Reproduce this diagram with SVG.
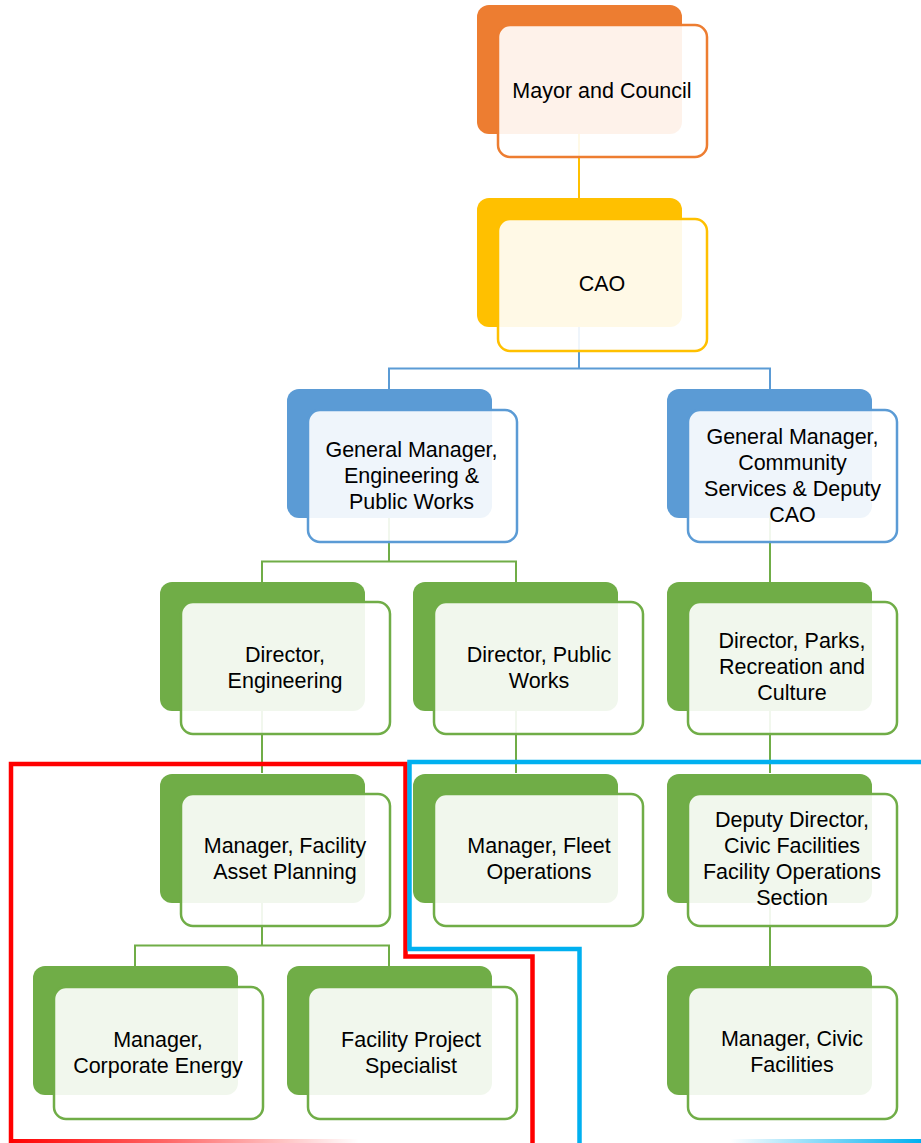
<svg xmlns="http://www.w3.org/2000/svg" width="921" height="1143" viewBox="0 0 921 1143">
<defs>
<style>
.bk{stroke:none}
.fr{fill:#ffffff;fill-opacity:0.9;stroke-width:2.5}
.t{font-family:"Liberation Sans",Arial,sans-serif;font-size:21.5px;fill:#000;text-anchor:middle}
.c{fill:none;stroke-width:2}
.o .bk{fill:#ED7D31}.o .fr{stroke:#ED7D31}
.y .bk{fill:#FFC000}.y .fr{stroke:#FFC000}
.b .bk{fill:#5B9BD5}.b .fr{stroke:#5B9BD5}
.g .bk{fill:#70AD47}.g .fr{stroke:#70AD47}
</style>
<linearGradient id="redfade" x1="0" y1="0" x2="1" y2="0">
<stop offset="0" stop-color="#FF0000"/>
<stop offset="0.45" stop-color="#FF0000" stop-opacity="0.6"/>
<stop offset="1" stop-color="#FF0000" stop-opacity="0"/>
</linearGradient>
<linearGradient id="bluefade" x1="0" y1="0" x2="1" y2="0">
<stop offset="0" stop-color="#00B0F0" stop-opacity="0"/>
<stop offset="0.6" stop-color="#00B0F0" stop-opacity="0.6"/>
<stop offset="1" stop-color="#00B0F0"/>
</linearGradient>
</defs>
<rect width="921" height="1143" fill="#ffffff"/>
<g id="connectors">
<path class="c" stroke="#FFC000" d="M579,133 V198"/>
<path class="c" stroke="#5B9BD5" d="M579,326 V368.5 M389,389 V368.5 H770 V389"/>
<path class="c" stroke="#70AD47" d="M389,518 V561.5 M262,582 V561.5 H516 V582"/>
<path class="c" stroke="#70AD47" d="M770,518 V582"/>
<path class="c" stroke="#70AD47" d="M262,710 V773 M516,710 V773 M770,710 V773"/>
<path class="c" stroke="#70AD47" d="M262,903 V945.5 M135,966 V945.5 H389 V966"/>
<path class="c" stroke="#70AD47" d="M770,903 V966"/>
</g>
<g id="n-mayor" class="o">
<rect class="bk" x="477" y="5" width="205" height="129" rx="12"/>
<rect class="fr" x="498" y="25" width="209" height="132" rx="12"/>
<text class="t" x="602" y="98">Mayor and Council</text>
</g>
<g id="n-cao" class="y">
<rect class="bk" x="477" y="198" width="205" height="129" rx="12"/>
<rect class="fr" x="498" y="219" width="209" height="132" rx="12"/>
<text class="t" x="602" y="291">CAO</text>
</g>
<g id="n-gm-eng" class="b">
<rect class="bk" x="287" y="389" width="205" height="129" rx="12"/>
<rect class="fr" x="308" y="410" width="209" height="132" rx="12"/>
<text class="t" x="411.5" y="457">General Manager,</text>
<text class="t" x="411.5" y="483">Engineering &amp;</text>
<text class="t" x="411.5" y="509">Public Works</text>
</g>
<g id="n-gm-comm" class="b">
<rect class="bk" x="667" y="389" width="205" height="129" rx="12"/>
<rect class="fr" x="688" y="410" width="209" height="132" rx="12"/>
<text class="t" x="792.5" y="444">General Manager,</text>
<text class="t" x="792.5" y="470">Community</text>
<text class="t" x="792.5" y="496">Services &amp; Deputy</text>
<text class="t" x="792.5" y="522">CAO</text>
</g>
<g id="n-dir-eng" class="g">
<rect class="bk" x="160" y="582" width="205" height="129" rx="12"/>
<rect class="fr" x="181" y="602" width="209" height="132" rx="12"/>
<text class="t" x="285" y="662">Director,</text>
<text class="t" x="285" y="688">Engineering</text>
</g>
<g id="n-dir-pw" class="g">
<rect class="bk" x="413" y="582" width="205" height="129" rx="12"/>
<rect class="fr" x="434" y="602" width="209" height="132" rx="12"/>
<text class="t" x="539" y="662">Director, Public</text>
<text class="t" x="539" y="688">Works</text>
</g>
<g id="n-dir-parks" class="g">
<rect class="bk" x="667" y="582" width="205" height="129" rx="12"/>
<rect class="fr" x="688" y="602" width="209" height="132" rx="12"/>
<text class="t" x="792" y="648">Director, Parks,</text>
<text class="t" x="792" y="674">Recreation and</text>
<text class="t" x="792" y="700">Culture</text>
</g>
<g id="n-mgr-fap" class="g">
<rect class="bk" x="160" y="774" width="205" height="129" rx="12"/>
<rect class="fr" x="181" y="794" width="209" height="132" rx="12"/>
<text class="t" x="285" y="853">Manager, Facility</text>
<text class="t" x="285" y="879">Asset Planning</text>
</g>
<g id="n-mgr-fleet" class="g">
<rect class="bk" x="413" y="774" width="205" height="129" rx="12"/>
<rect class="fr" x="434" y="794" width="209" height="132" rx="12"/>
<text class="t" x="539" y="853">Manager, Fleet</text>
<text class="t" x="539" y="879">Operations</text>
</g>
<g id="n-dep-dir" class="g">
<rect class="bk" x="667" y="774" width="205" height="129" rx="12"/>
<rect class="fr" x="688" y="794" width="209" height="132" rx="12"/>
<text class="t" x="792" y="827">Deputy Director,</text>
<text class="t" x="792" y="853">Civic Facilities</text>
<text class="t" x="792" y="879">Facility Operations</text>
<text class="t" x="792" y="905">Section</text>
</g>
<g id="n-mgr-energy" class="g">
<rect class="bk" x="33" y="966" width="205" height="129" rx="12"/>
<rect class="fr" x="54" y="987" width="209" height="132" rx="12"/>
<text class="t" x="158" y="1047">Manager,</text>
<text class="t" x="158" y="1073">Corporate Energy</text>
</g>
<g id="n-fps" class="g">
<rect class="bk" x="287" y="966" width="205" height="129" rx="12"/>
<rect class="fr" x="308" y="987" width="209" height="132" rx="12"/>
<text class="t" x="411" y="1047">Facility Project</text>
<text class="t" x="411" y="1073">Specialist</text>
</g>
<g id="n-mgr-civic" class="g">
<rect class="bk" x="667" y="966" width="205" height="129" rx="12"/>
<rect class="fr" x="688" y="987" width="209" height="132" rx="12"/>
<text class="t" x="792" y="1046">Manager, Civic</text>
<text class="t" x="792" y="1072">Facilities</text>
</g>
<g id="outlines">
<path fill="none" stroke="#FF0000" stroke-width="4.5" d="M11,1143 V764 H405.5 V956.5 H532.5 V1143"/>
<rect x="9" y="1139" width="350" height="4" fill="url(#redfade)"/>
<path fill="none" stroke="#00B0F0" stroke-width="4.5" d="M921,762 H409.5 V949 H579.5 V1143"/>
<rect x="730" y="1139" width="191" height="4" fill="url(#bluefade)"/>
</g>
</svg>
